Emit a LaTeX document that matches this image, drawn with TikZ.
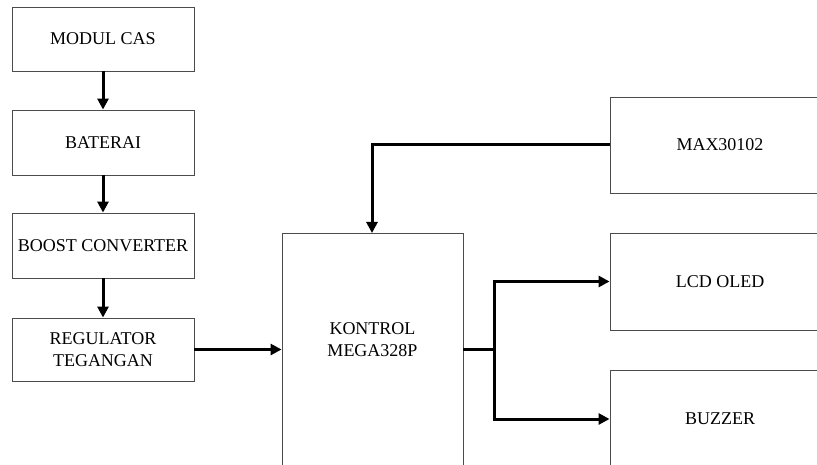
\documentclass[tikz,border=0pt]{standalone}
\usepackage{fontspec}
\setmainfont{Liberation Serif}
\usetikzlibrary{arrows.meta}
\begin{document}
\begin{tikzpicture}[x=1pt,y=-1pt,
  box/.style={draw=black!70, line width=0.9pt, rectangle, inner sep=0pt, align=center, font=\fontsize{18}{22}\selectfont},
  lbl/.style={inner sep=0pt, align=center, font=\fontsize{18}{22}\selectfont},
  conn/.style={line width=3pt, -{Triangle[length=11pt,width=11pt]}},
  wire/.style={line width=3pt}]
\useasboundingbox (0,0) rectangle (817,465);
\clip (0,0) rectangle (817,465);
% left column
\node[box, minimum width=182pt, minimum height=64pt] (modul) at (103,39) {MODUL CAS};
\node[box, minimum width=182pt, minimum height=65pt] (baterai) at (103,142.5) {BATERAI};
\node[box, minimum width=182pt, minimum height=65pt] (boost) at (103,245.5) {BOOST CONVERTER};
\node[box, minimum width=182pt, minimum height=63pt] (reg) at (103,349.5) {REGULATOR\\TEGANGAN};
% controller
\node[box, minimum width=181pt, minimum height=287pt] (kontrol) at (372.5,376.5) {};
\node[lbl] (kontroltext) at (372.5,340) {KONTROL\\MEGA328P};
% right column
\node[box, minimum width=220pt, minimum height=96pt] (max) at (720,145) {MAX30102};
\node[box, minimum width=220pt, minimum height=97pt] (lcd) at (720,281.5) {LCD OLED};
\node[box, minimum width=220pt, minimum height=98pt] (buzzer) at (720,419) {BUZZER};
% connectors
\draw[conn] (modul.south) -- (baterai.north);
\draw[conn] (baterai.south) -- (boost.north);
\draw[conn] (boost.south) -- (reg.north);
\draw[conn] (reg.east) -- (reg.east -| kontrol.west);
\coordinate (kin) at (372,233);
\draw[conn] (max.west) -| (kin);
\coordinate (kout) at (463,349.5);
\coordinate (br) at (494,349.5);
\draw[wire] (kout) -- (br);
\draw[conn] (br) |- (lcd.west);
\draw[conn] (br) |- (buzzer.west);
\end{tikzpicture}
\end{document}
